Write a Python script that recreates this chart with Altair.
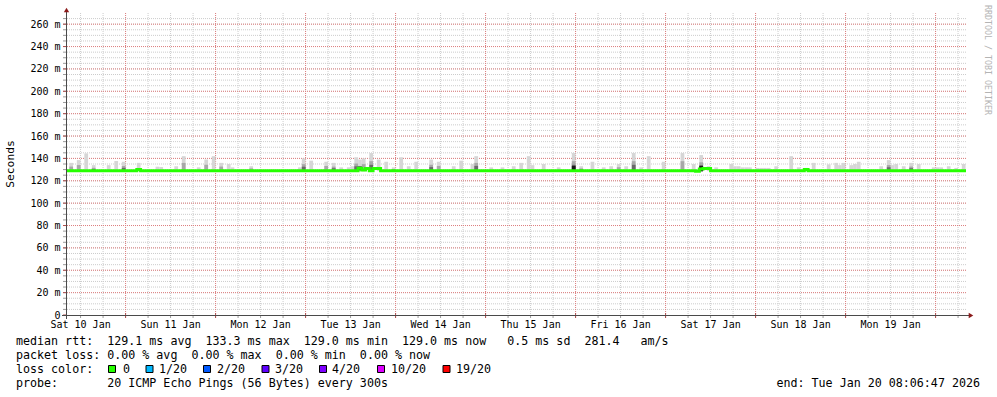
import altair as alt
import pandas as pd

MONO = "DejaVu Sans Mono"
NB = "\u00a0"

# ---- time axis: hours after Sat 10 Jan 00:00 ----
T_START = 8.113
T_END = 248.113
Y_MAX = 270

day_labels = ["Sat 10 Jan", "Sun 11 Jan", "Mon 12 Jan", "Tue 13 Jan", "Wed 14 Jan",
              "Thu 15 Jan", "Fri 16 Jan", "Sat 17 Jan", "Sun 18 Jan", "Mon 19 Jan"]
day_label_hours = [12, 36, 60, 84, 108, 132, 156, 180, 204, 228]

y_major = [0, 20, 40, 60, 80, 100, 120, 140, 160, 180, 200, 220, 240, 260]
y_labels = ["0" + NB + NB, "20 m", "40 m", "60 m", "80 m", "100 m", "120 m", "140 m",
            "160 m", "180 m", "200 m", "220 m", "240 m", "260 m"]
y_minor = list(range(5, 270, 5))
x_minor = list(range(12, 248, 6))
x_major = list(range(24, 241, 24))

# ---- smoke (hourly bins): start hour, max rtt in ms, shade level ----
smoke_hour = [9, 11, 13, 15, 19, 21, 23, 27, 32, 33, 37, 39, 43, 45, 47, 49, 51, 52, 57,
              70, 71, 73, 77, 79, 81, 83, 84, 85, 86, 87, 89, 91, 93, 95, 97, 99, 101,
              105, 107, 111, 113, 116, 117, 121, 124, 127, 129, 131, 132, 135, 139, 143,
              145, 148, 151, 153, 155, 157, 159, 161, 163, 167, 172, 175, 177, 179, 181,
              185, 186, 187, 188, 189, 190, 192, 193, 194, 195, 197, 201, 203, 205, 207,
              211, 213, 214, 215, 217, 218, 219, 225, 227, 228, 229, 231, 233, 235, 239,
              240, 241, 243, 245, 247]
smoke_max = [136, 138.5, 144.5, 134, 134, 137.7, 137, 136, 132.6, 132.3, 133, 142, 132, 139,
             142, 136, 135, 132, 133,
             132, 140, 138, 137, 136, 132, 132, 133, 141, 139, 140, 144.8, 139, 137, 132,
             141, 133, 137,
             139, 137, 133, 138, 135, 142, 132, 132, 133, 136, 142, 134, 135, 132, 144.8,
             133, 137, 132, 133, 135, 133, 144.8, 132, 142, 137, 144.8, 135, 143, 133, 132,
             135, 133, 133, 132, 132, 132, 131.5, 131.5, 131.5, 131.5, 133, 142, 132, 131.5,
             136,
             134.7, 136, 134, 136, 134, 135, 137, 133, 138.5, 134, 135, 133, 136, 135, 132,
             132, 132, 133, 131.5, 135]
smoke_shade = [1, 1, 0, 2, 0, 0, 2, 0, 0, 0, 0, 1, 0, 1, 0, 1, 0, 0, 1,
               0, 2, 0, 1, 2, 0, 0, 0, 2, 0, 1, 2, 0, 0, 2, 0, 0, 0,
               2, 1, 0, 0, 0, 2, 0, 0, 0, 0, 0, 0, 0, 0, 2,
               2, 0, 0, 0, 1, 0, 2, 0, 0, 0, 1, 0, 2, 0, 0,
               0, 0, 0, 0, 0, 0, 0, 0, 0, 0, 0, 0, 0, 0, 0,
               0, 0, 0, 0, 0, 0, 0, 0, 2, 0, 0, 0, 2, 0, 0,
               0, 0, 0, 0, 0]
SMOKE_MIN = 128.6

# very dark smoke patches
black_hour = [86, 143, 177]
black_lo = [129.3, 128.3, 128.5]
black_hi = [132.8, 133.3, 133.4]

# median rtt (step changes)
median_hour = [T_START, 27, 28, 86, 87, 88, 89, 90, 92, 176, 177, 178, 180, 205, 206, T_END]
median_rtt = [129.0, 130.0, 129.0, 131.3, 129.6, 131.0, 129.0, 131.0, 129.0, 128.5, 130.6,
              131.0, 129.0, 130.0, 129.0, 129.0]

loss_labels = ["0", "1/20", "2/20", "3/20", "4/20", "10/20", "19/20"]
loss_colors = ["#26ff00", "#00b8ff", "#0059ff", "#5e00ff", "#7e00ff", "#dd00ff", "#ff0000"]

stats_line = "median rtt:  129.1 ms avg  133.3 ms max  129.0 ms min  129.0 ms now   0.5 ms sd  281.4   am/s"
loss_line = "packet loss: 0.00 % avg  0.00 % max  0.00 % min  0.00 % now"
probe_line = "probe:       20 ICMP Echo Pings (56 Bytes) every 300s"
end_line = "end: Tue Jan 20 08:06:47 2026"
side_text = "RRDTOOL / TOBI OETIKER"

# ---------------------------------------------------------------
xs = alt.Scale(domain=[T_START, T_END], nice=False, zero=False)
ys = alt.Scale(domain=[0, Y_MAX], nice=False, zero=False)

smoke = pd.DataFrame({"h": smoke_hour, "hi": smoke_max, "shade": smoke_shade})
smoke["h2"] = smoke["h"] + 1
smoke["lo"] = SMOKE_MIN
smoke["mid"] = smoke["lo"] + (smoke["hi"] - smoke["lo"]) * 0.55
smoke["dk"] = smoke["lo"] + (smoke["hi"] - smoke["lo"]) * 0.35
mid_df = smoke[smoke["shade"] >= 1]
dk_df = smoke[smoke["shade"] >= 2]

black = pd.DataFrame({"h": black_hour, "lo": black_lo, "hi": black_hi})
black["h2"] = black["h"] + 1

med = pd.DataFrame({"h": median_hour, "v": median_rtt})


def one(**kw):
    return pd.DataFrame({k: [v] for k, v in kw.items()})


def hrule(values, color):
    return alt.Chart(pd.DataFrame({"v": values})).mark_rule(
        color=color, strokeWidth=1, strokeDash=[1, 1]
    ).encode(y=alt.Y("v:Q", scale=ys, axis=None))


def vrule(values, color):
    return alt.Chart(pd.DataFrame({"v": values})).mark_rule(
        color=color, strokeWidth=1, strokeDash=[1, 1]
    ).encode(x=alt.X("v:Q", scale=xs, axis=None))


def rects(df, lo, hi, color):
    return alt.Chart(df).mark_rect(color=color, opacity=1).encode(
        x=alt.X("h:Q", scale=xs, axis=None), x2="h2:Q",
        y=alt.Y(lo + ":Q", scale=ys, axis=None), y2=hi + ":Q")


def label(text, x, y, align="left", size=11.66, color="#000000", angle=0, baseline="alphabetic"):
    df = one(s=text.replace(" ", NB))
    return alt.Chart(df).mark_text(
        align=align, baseline=baseline, font=MONO, fontSize=size, color=color, angle=angle
    ).encode(x=alt.value(x), y=alt.value(y), text="s:N")


MINOR = "#cccccc"
MAJOR = "#de7f7f"
AXIS = "#4a4a4a"
ARROW = "#8b1a1a"

layers = [
    hrule(y_minor, MINOR),
    vrule(x_minor, MINOR),
    hrule(y_major[1:], MAJOR),
    vrule(x_major, MAJOR),
    rects(smoke, "lo", "hi", "#d6d6d6"),
    rects(mid_df, "lo", "mid", "#a8a8a8"),
    rects(dk_df, "lo", "dk", "#6a6a6a"),
    rects(black, "lo", "hi", "#1a1a1a"),
    alt.Chart(med).mark_line(interpolate="step-after", color="#26ff00", strokeWidth=3).encode(
        x=alt.X("h:Q", scale=xs, axis=None), y=alt.Y("v:Q", scale=ys, axis=None)),
]

# axis ticks
layers.append(alt.Chart(pd.DataFrame({"v": y_minor})).mark_rule(color="#9a9a9a").encode(
    y=alt.Y("v:Q", scale=ys, axis=None), x=alt.value(-3), x2=alt.value(0)))
layers.append(alt.Chart(pd.DataFrame({"v": y_major})).mark_rule(color="#b05050").encode(
    y=alt.Y("v:Q", scale=ys, axis=None), x=alt.value(-3), x2=alt.value(1)))
layers.append(alt.Chart(pd.DataFrame({"v": x_minor})).mark_rule(color="#9a9a9a").encode(
    x=alt.X("v:Q", scale=xs, axis=None), y=alt.value(302), y2=alt.value(305)))
layers.append(alt.Chart(pd.DataFrame({"v": x_major})).mark_rule(color="#b05050").encode(
    x=alt.X("v:Q", scale=xs, axis=None), y=alt.value(300), y2=alt.value(305)))

# axis lines and arrows
layers.append(alt.Chart(one(a=1)).mark_rule(color=AXIS, strokeWidth=1).encode(
    x=alt.value(0.5), y=alt.value(-3), y2=alt.value(306)))
layers.append(alt.Chart(one(a=1)).mark_rule(color=AXIS, strokeWidth=1).encode(
    x=alt.value(-4), x2=alt.value(903), y=alt.value(302.5)))
layers.append(alt.Chart(one(a=1)).mark_point(shape="triangle-up", filled=True, size=28,
                                              color=ARROW, opacity=1).encode(
    x=alt.value(0.5), y=alt.value(-3)))
layers.append(alt.Chart(one(a=1)).mark_point(shape="triangle-right", filled=True, size=28,
                                              color=ARROW, opacity=1).encode(
    x=alt.value(905), y=alt.value(302.5)))

# axis labels
layers.append(alt.Chart(pd.DataFrame({"v": y_major, "s": y_labels})).mark_text(
    align="right", baseline="middle", font=MONO, fontSize=10, color="#000000", dy=0.5
).encode(y=alt.Y("v:Q", scale=ys, axis=None), x=alt.value(-5.5), text="s:N"))
layers.append(alt.Chart(pd.DataFrame({"h": day_label_hours, "s": [d.replace(" ", NB) for d in day_labels]})).mark_text(
    align="center", baseline="alphabetic", font=MONO, fontSize=10, color="#000000"
).encode(x=alt.X("h:Q", scale=xs, axis=None), y=alt.value(315), text="s:N"))

# titles and legend text
layers.append(label("Seconds", -55, 151, align="center", size=11.3, angle=270, baseline="middle"))
layers.append(label(side_text, 921, -8, align="left", size=8.3, color="#b4b4b4", angle=90,
                    baseline="middle"))
layers.append(label(stats_line, -50, 332))
layers.append(label(loss_line, -50, 346))
layers.append(label("loss color:", -50, 360))
layers.append(label(probe_line, -50, 374))
layers.append(label(end_line, 914, 374, align="right"))

box_x = [46, 83.5, 141, 199.5, 257, 315, 380.5]
text_x = [57, 93, 151, 209, 266, 325, 390]
for lab, col, bx, tx in zip(loss_labels, loss_colors, box_x, text_x):
    layers.append(alt.Chart(one(a=1)).mark_square(size=49, filled=True, color=col, opacity=1,
                                                   stroke="#000000", strokeWidth=1).encode(
        x=alt.value(bx), y=alt.value(356)))
    layers.append(label(lab, tx, 360))

chart = alt.layer(*layers).properties(
    width=900, height=302,
    padding={"left": 66, "top": 13, "right": 31, "bottom": 82},
    autosize="none",
    background="#ffffff",
).configure_view(stroke=None)

chart.save("out.html", embed_options={"renderer": "svg", "actions": False})
